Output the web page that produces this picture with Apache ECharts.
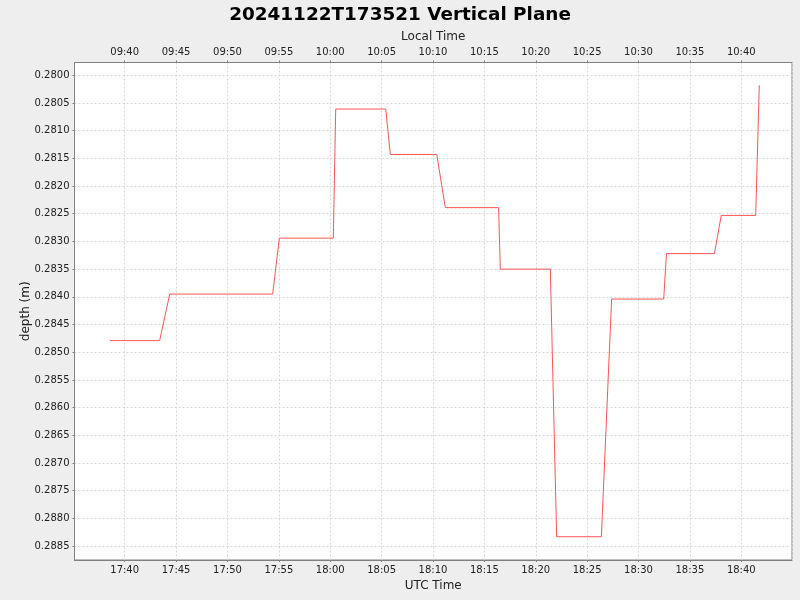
<!DOCTYPE html>
<html>
<head>
<meta charset="utf-8">
<script src="https://cdn.jsdelivr.net/npm/echarts@6/dist/echarts.min.js"></script>
<style>
  html, body { margin: 0; padding: 0; background: #eeeeee; }
  #chart { width: 800px; height: 600px; }
</style>
</head>
<body>
<div id="chart"></div>
<script>
// sample times (UTC, 2024-11-22) and depth readings
var utcTimes = [
    '17:38:34', '17:43:24', '17:44:23', '17:54:24', '17:55:03', '18:00:18',
    '18:00:32', '18:05:24', '18:05:51', '18:10:22', '18:11:12', '18:16:23',
    '18:16:33', '18:21:25', '18:22:02', '18:26:23', '18:27:23', '18:32:27',
    '18:32:43', '18:37:23', '18:38:03', '18:41:24', '18:41:45'
];
var depths = [
    0.28479, 0.28479, 0.28395, 0.28395, 0.28294, 0.28294,
    0.28061, 0.28061, 0.28143, 0.28143, 0.28239, 0.28239,
    0.28350, 0.28350, 0.28833, 0.28833, 0.28404, 0.28404,
    0.28322, 0.28322, 0.28253, 0.28253, 0.28018
];
var axisStart = '17:35:07';
var axisEnd = '18:44:56';
var depthMin = 0.27977;
var depthMax = 0.28875;
var localOffsetHours = -8;

function toMs(hms) {
    let p = hms.split(':').map(Number);
    return Date.UTC(2024, 10, 22, p[0], p[1], p[2]);
}

function fmtTime(value, offsetH) {
    let d = new Date(Math.round(value) + offsetH * 3600000);
    let h = d.getUTCHours(), m = d.getUTCMinutes();
    return (h < 10 ? '0' : '') + h + ':' + (m < 10 ? '0' : '') + m;
}

var points = [];
for (let i = 0; i < utcTimes.length; i++) {
    points.push([toMs(utcTimes[i]), depths[i]]);
}

var FONT = 'DejaVu Sans';
var gridLine = {
    show: true,
    lineStyle: { color: '#d8d8d8', type: [2, 2], width: 1 }
};

// value axis in ms; ticks land on whole 5-minute marks
function timeAxis(position, name, offsetH, nameGap) {
    return {
        type: 'value',
        position: position,
        name: name,
        nameLocation: 'middle',
        nameGap: nameGap,
        nameTextStyle: { fontFamily: FONT, fontSize: 12, color: '#222' },
        min: toMs(axisStart),
        max: toMs(axisEnd),
        minInterval: 300000,
        maxInterval: 300000,
        scale: true,
        axisLine: { show: true, onZero: false, lineStyle: { color: '#808080', width: 1 } },
        axisTick: { show: true, length: 2, lineStyle: { color: '#808080' } },
        axisLabel: {
            fontFamily: FONT,
            fontSize: 10,
            color: '#222',
            margin: 5,
            showMinLabel: false,
            showMaxLabel: false,
            formatter: function (value) {
                return fmtTime(value, offsetH);
            }
        },
        splitLine: position === 'bottom' ? gridLine : { show: false }
    };
}

var myChart = echarts.init(document.getElementById('chart'));
var option = {
    backgroundColor: '#eeeeee',
    animation: false,
    title: {
        text: '20241122T173521 Vertical Plane',
        left: 'center',
        top: 1,
        textStyle: { fontFamily: FONT, fontSize: 18.4, fontWeight: 'bold', color: '#000' }
    },
    grid: {
        left: 74.5,
        right: 8,
        top: 62.5,
        bottom: 40,
        show: true,
        backgroundColor: '#ffffff',
        borderColor: '#808080',
        borderWidth: 1
    },
    xAxis: [
        timeAxis('bottom', 'UTC Time', 0, 18),
        timeAxis('top', 'Local Time', localOffsetHours, 20)
    ],
    yAxis: {
        type: 'value',
        inverse: true,
        name: 'depth (m)',
        nameLocation: 'middle',
        nameGap: 43,
        nameMoveOverlap: false,
        nameTextStyle: { fontFamily: FONT, fontSize: 12, color: '#222' },
        min: depthMin,
        max: depthMax,
        minInterval: 0.0005,
        maxInterval: 0.0005,
        axisLine: { show: true, lineStyle: { color: '#808080', width: 1 } },
        axisTick: { show: true, length: 2, lineStyle: { color: '#808080' } },
        axisLabel: {
            fontFamily: FONT,
            fontSize: 10,
            color: '#222',
            margin: 5,
            showMinLabel: false,
            showMaxLabel: false,
            formatter: function (value) {
                return value.toFixed(4);
            }
        },
        splitLine: gridLine
    },
    series: [
        {
            type: 'line',
            xAxisIndex: 0,
            data: points,
            showSymbol: false,
            lineStyle: { color: '#ff5555', width: 1 },
            itemStyle: { color: '#ff5555' }
        }
    ]
};
myChart.setOption(option);
</script>
</body>
</html>
